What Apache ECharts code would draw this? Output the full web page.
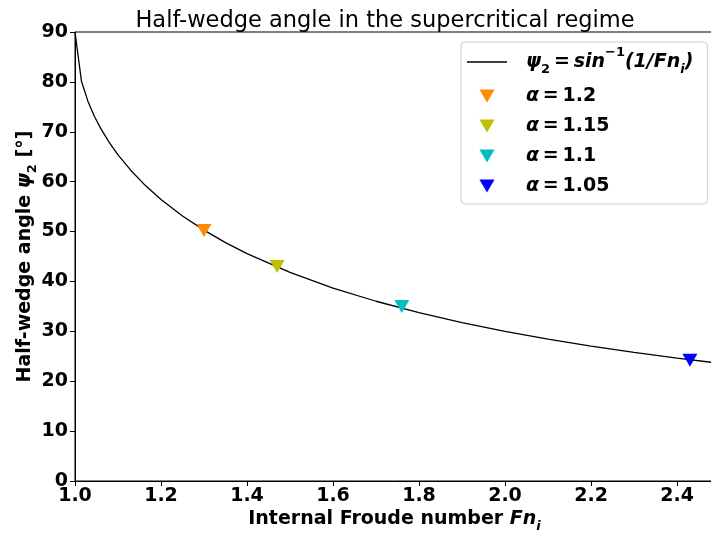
<!DOCTYPE html>
<html><head><meta charset="utf-8">
<script src="https://cdn.jsdelivr.net/npm/echarts@6/dist/echarts.min.js"></script>
<style>html,body{margin:0;padding:0;background:#fff}#c{width:711px;height:534px}</style>
</head><body><div id="c"></div>
<script>
// Curve psi2 = asin(1/Fn) (degrees)
const curveFn  = [1.0, 1.015, 1.03, 1.045, 1.06, 1.08, 1.10, 1.13, 1.16, 1.2, 1.25, 1.3, 1.35, 1.4, 1.5, 1.6, 1.7, 1.8, 1.9, 2.0, 2.1, 2.2, 2.3, 2.4, 2.5];
const curvePsi = [90, 80.14, 76.14, 73.12, 70.63, 67.81, 65.38, 62.25, 59.55, 56.44, 53.13, 50.28, 47.79, 45.58, 41.81, 38.68, 36.03, 33.75, 31.76, 30.0, 28.44, 27.04, 25.77, 24.62, 23.58];
// Markers
const alphaNames  = ['1.2', '1.15', '1.1', '1.05'];
const alphaFn     = [1.30, 1.47, 1.76, 2.43];
const alphaPsi    = [50.2, 43.0, 35.0, 24.2];
const alphaColors = ['#FF8C00', '#BFBF00', '#00BFBF', '#0000FF'];
const xTicks = [1.0, 1.2, 1.4, 1.6, 1.8, 2.0, 2.2, 2.4];
const yTicks = [0, 10, 20, 30, 40, 50, 60, 70, 80, 90];

const FF = 'DejaVu Sans';
const chart = echarts.init(document.getElementById('c'), null, {renderer: 'canvas'});
const series = [{
  name: 'curve', type: 'line', symbol: 'none', smooth: false,
  data: curveFn.map((x, i) => [x, curvePsi[i]]),
  lineStyle: {color: '#000', width: 1.3}, itemStyle: {color: '#000'}, z: 2
}];
alphaNames.forEach((n, i) => {
  series.push({
    name: 'a' + n, type: 'scatter', symbol: 'triangle', symbolRotate: 180, symbolSize: [15, 13],
    data: [[alphaFn[i], alphaPsi[i]]], itemStyle: {color: alphaColors[i], opacity: 1}, z: 3
  });
});
const rich = {
  i: {fontFamily: FF, fontWeight: 'bold', fontStyle: 'italic', fontSize: 19, color: '#000', verticalAlign: 'middle'},
  b: {fontFamily: FF, fontWeight: 'bold', fontSize: 19, color: '#000'},
  sub: {fontFamily: FF, fontWeight: 'bold', fontStyle: 'italic', fontSize: 13, color: '#000', verticalAlign: 'bottom', padding: [0, 0, -4, 0]},
  subn: {fontFamily: FF, fontWeight: 'bold', fontSize: 13, color: '#000', verticalAlign: 'bottom', padding: [0, 0, -4, 0]},
  sup: {fontFamily: FF, fontWeight: 'bold', fontSize: 13, color: '#000', verticalAlign: 'top', padding: [-6, 0, 0, 0]}
};
const triIcon = 'path://M0,0 L14,0 L7,12 Z';
chart.setOption({
  animation: false,
  title: {
    text: 'Half-wedge angle in the supercritical regime', left: 380, top: 5, textAlign: 'center',
    textStyle: {fontFamily: FF, fontWeight: 'normal', fontSize: 22.5, color: '#000'}
  },
  grid: {left: 75, right: -3, top: 32, bottom: 53, outerBoundsMode: 'none', containLabel: false,
    show: true, borderColor: '#000', borderWidth: 1, backgroundColor: 'transparent'},
  legend: {
    orient: 'vertical', left: 461, top: 42, width: 248,
    padding: [4, 14, 8, 6], itemGap: 10, itemWidth: 40, itemHeight: 13,
    backgroundColor: '#fff', borderColor: '#ccc', borderWidth: 1, borderRadius: 4,
    data: [{name: 'curve', icon: 'path://M0,6 L40,6 L40,7.3 L0,7.3 Z', itemStyle: {color: '#000'}}]
      .concat(alphaNames.map((n, i) => ({name: 'a' + n, icon: triIcon, itemStyle: {color: alphaColors[i]}}))),
    formatter: function (name) {
      if (name === 'curve') return '{i|ψ}{subn|2}{i|\u2009=\u2009sin}{sup|−1}{i|(1/Fn}{sub|i}{i|)}';
      return '{i|α\u2009=\u2009}{b|' + name.slice(1) + '}';
    },
    textStyle: {rich: rich, lineHeight: 20, padding: [0, 0, 0, 14]}
  },
  xAxis: {
    type: 'value', min: 1.0, max: 2.486, interval: 0.2,
    splitLine: {show: false},
    axisLine: {show: true, lineStyle: {color: '#000'}},
    axisTick: {show: true, length: 5, lineStyle: {color: '#000'}},
    axisLabel: {showMaxLabel: false, fontFamily: FF, fontWeight: 'bold', fontSize: 19, color: '#000', margin: 6,
      formatter: v => xTicks.some(t => Math.abs(t - v) < 1e-6) ? v.toFixed(1) : ''},
    name: '{b|Internal Froude number }{i|Fn}{sub|i}', nameLocation: 'middle', nameGap: 29, nameMoveOverlap: false,
    nameTextStyle: {rich: rich}
  },
  yAxis: {
    type: 'value', min: 0, max: 90, interval: 10,
    splitLine: {show: false},
    axisLine: {show: true, lineStyle: {color: '#000'}},
    axisTick: {show: true, length: 5, lineStyle: {color: '#000'}},
    axisLabel: {fontFamily: FF, fontWeight: 'bold', fontSize: 19, color: '#000', margin: 7,
      formatter: v => yTicks.includes(v) ? String(v) : ''},
    name: '{b|Half-wedge angle }{i|ψ}{subn|2}{b| [°]}', nameLocation: 'middle', nameGap: 40, nameMoveOverlap: false,
    nameTextStyle: {rich: rich}
  },
  series: series
});
</script></body></html>
